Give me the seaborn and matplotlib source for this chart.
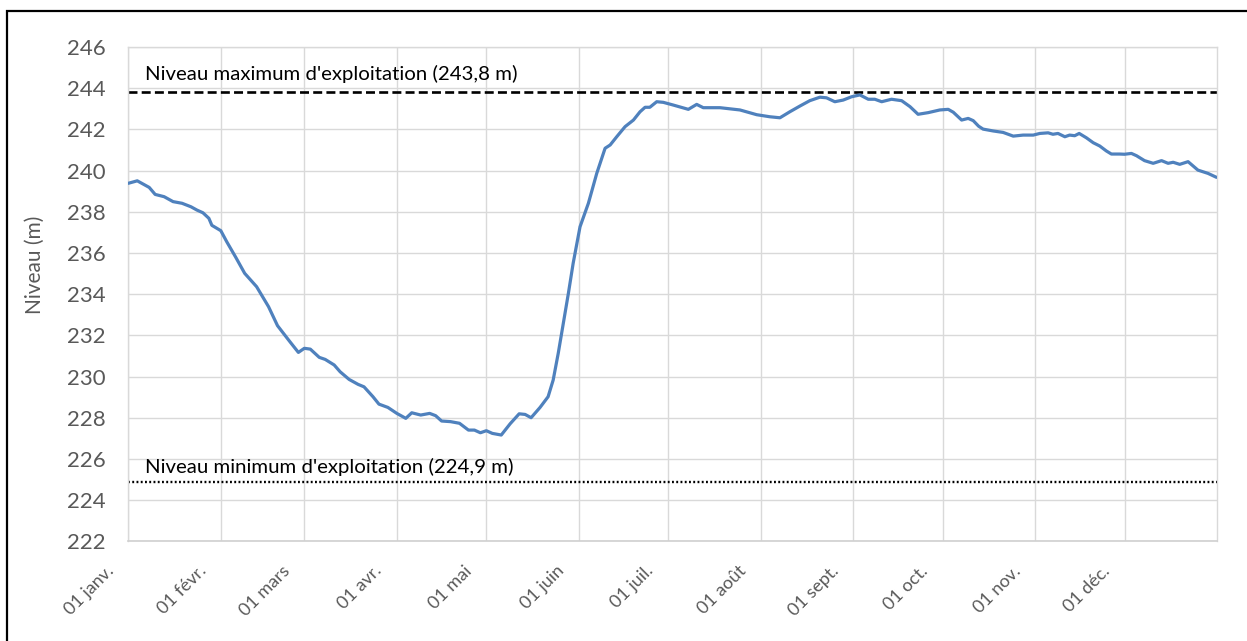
import numpy as np
import pandas as pd
import matplotlib
matplotlib.use("Agg")
import matplotlib.pyplot as plt
import matplotlib.transforms as mtransforms
from matplotlib.patches import Rectangle
import seaborn as sns

# Day of year (from 1 January) and reservoir level in metres
day_offset = [
    0, 3, 7, 9, 12, 15, 18, 21, 23, 25, 27, 28, 31, 33, 36, 39, 43, 47, 50, 54,
    57, 59, 61, 64, 66, 69, 71, 74, 77, 79, 82, 84, 87, 90, 93, 95, 98, 101, 103,
    105, 108, 111, 114, 116, 118, 120, 122, 125, 128, 131, 133, 135, 138,
    140.7, 142.4, 144.1, 145.8, 147.5, 149.1, 151.4, 154.2, 157, 159.8, 161.5,
    163.7, 166.5, 169.3, 171.5, 173.2, 174.8, 177.1, 179.3, 182.6, 187.7, 190.5,
    192.7, 198.3, 205, 210.6, 215, 218.4, 221.7, 225.1, 228.4, 231.8, 234,
    236.8, 239.6, 242.4, 245.2, 248, 250.2, 252.5, 255.8, 259.2, 262, 264.7,
    268.1, 272, 274.8, 276.5, 279.3, 281.5, 283.2, 285, 286.5, 289.9, 293.2,
    296.6, 299.9, 303.3, 305.5, 308.3, 309.9, 311.6, 313.9, 315.5, 317.2, 318.7,
    321.1, 323.4, 325.6, 327.8, 329.5, 332.3, 333.9, 336.2, 337.9, 340.6, 343.5,
    346.3, 348.5, 350.2, 352.4, 355.2, 358.5, 361.9, 364.7,
]
niveau = [
    239.38, 239.50, 239.18, 238.84, 238.73, 238.49, 238.41, 238.24, 238.08, 237.95,
    237.68, 237.34, 237.08, 236.54, 235.79, 235.01, 234.36, 233.39, 232.47, 231.72,
    231.17, 231.37, 231.33, 230.93, 230.83, 230.56, 230.23, 229.86, 229.62, 229.50,
    229.02, 228.66, 228.50, 228.21, 227.97, 228.24, 228.13, 228.21, 228.10, 227.84,
    227.81, 227.73, 227.40, 227.40, 227.27, 227.37, 227.24, 227.16, 227.71, 228.19,
    228.16, 228.00, 228.50,
    229.02, 229.83, 231.13, 232.58, 234.04, 235.50, 237.27, 238.41, 239.86, 241.08,
    241.24, 241.64, 242.13, 242.45, 242.85, 243.07, 243.07, 243.34, 243.31, 243.18,
    242.97, 243.21, 243.05, 243.05, 242.94, 242.71, 242.61, 242.56, 242.85, 243.13,
    243.39, 243.56, 243.53, 243.34, 243.42, 243.58, 243.67, 243.46, 243.46, 243.34,
    243.46, 243.39, 243.10, 242.73, 242.81, 242.94, 242.97, 242.83, 242.45, 242.53,
    242.42, 242.15, 242.01, 241.92, 241.85, 241.67, 241.72, 241.72, 241.80, 241.83,
    241.76, 241.80, 241.64, 241.72, 241.69, 241.80, 241.59, 241.35, 241.19, 240.95,
    240.80, 240.80, 240.79, 240.83, 240.72, 240.48, 240.35, 240.48, 240.35, 240.40,
    240.30, 240.43, 240.02, 239.86, 239.67,
]

month_labels = ["01 janv.", "01 févr.", "01 mars", "01 avr.", "01 mai", "01 juin",
                "01 juil.", "01 août", "01 sept.", "01 oct.", "01 nov.", "01 déc."]

niveau_max = 243.8
niveau_min = 224.9
label_max = "Niveau maximum d'exploitation (243,8 m)"
label_min = "Niveau minimum d'exploitation (224,9 m)"

y_ticks = list(range(222, 247, 2))

start = pd.Timestamp("2021-01-01")
df = pd.DataFrame({
    "date": start + pd.to_timedelta(day_offset, unit="D"),
    "niveau": niveau,
})

sns.set_theme(style="whitegrid")
plt.rcParams["font.family"] = ["Lato", "DejaVu Sans"]

fig = plt.figure(figsize=(12.47, 6.41), dpi=100)
ax = fig.add_axes([0.1029, 0.1555, 0.8733, 0.7713])

sns.lineplot(data=df, x="date", y="niveau", ax=ax, color="#4F81BD",
             linewidth=2.3, zorder=3)

ax.axhline(niveau_max, color="black", linestyle=(0, (3.4, 1.6)), linewidth=1.9, zorder=2)
ax.axhline(niveau_min, color="black", linestyle=(0, (0.8, 1.0)), linewidth=1.7, zorder=2)

text_x = start + pd.Timedelta(days=5.6)
ax.text(text_x, 244.38, label_max, fontsize=14.7, color="black", va="baseline", ha="left")
ax.text(text_x, 225.32, label_min, fontsize=14.7, color="black", va="baseline", ha="left")

ax.set_xlim(start, start + pd.Timedelta(days=365))
ax.set_ylim(222, 246)
ax.set_yticks(y_ticks)
ax.set_yticklabels([str(v) for v in y_ticks], fontsize=16, color="#595959")

month_ticks = pd.date_range(start, periods=12, freq="MS")
ax.set_xticks(month_ticks)
ax.set_xticklabels(month_labels, fontsize=13, color="#595959", rotation=45,
                   ha="right", rotation_mode="anchor")
ax.tick_params(axis="x", pad=6, length=0)
ax.tick_params(axis="y", pad=16, length=0)

# Shift the slanted month labels down and to the left of their gridline
shift = mtransforms.ScaledTranslation(-23 / 100, -13 / 100, fig.dpi_scale_trans)
for lbl in ax.get_xticklabels():
    lbl.set_transform(lbl.get_transform() + shift)

ax.set_xlabel("")
ax.set_ylabel("Niveau (m)", fontsize=15, color="#595959")
ax.yaxis.set_label_coords(-0.077, 0.559)

ax.grid(True, color="#D9D9D9", linewidth=1.0)
for side in ["left", "right", "top"]:
    ax.spines[side].set_color("#D9D9D9")
    ax.spines[side].set_linewidth(1.0)
ax.spines["bottom"].set_color("#D0D0D0")
ax.spines["bottom"].set_linewidth(1.2)

# Outer frame around the chart
frame = Rectangle((7 / 1247, -0.2), 1.2, 1 - 10.5 / 641 + 0.2,
                  transform=fig.transFigure, fill=False, edgecolor="black",
                  linewidth=1.6, clip_on=False)
fig.patches.append(frame)

fig.savefig("out.png", dpi=100, facecolor="white")
